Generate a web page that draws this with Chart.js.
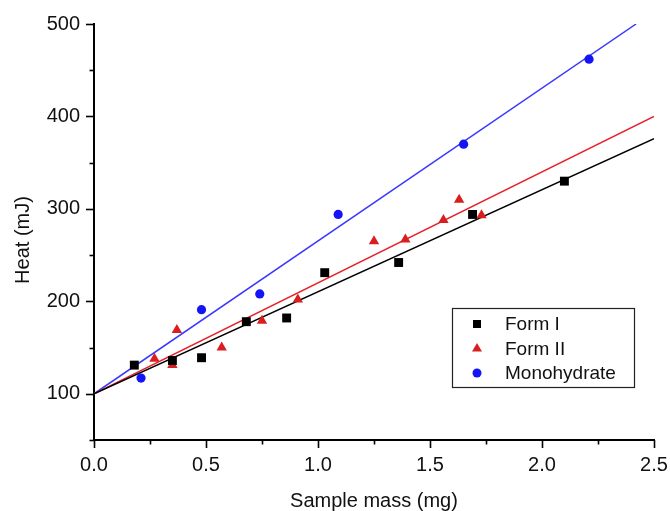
<!DOCTYPE html>
<html>
<head>
<meta charset="utf-8">
<script src="https://cdn.jsdelivr.net/npm/chart.js@4.4.1/dist/chart.umd.min.js"></script>
<style>
  html, body { margin: 0; padding: 0; background: #ffffff; }
  #wrap { width: 670px; height: 511px; }
</style>
</head>
<body>
<div id="wrap"><canvas id="c" width="670" height="511"></canvas></div>
<script>
// Measured samples: sample mass (mg) and heat (mJ)
const formIMass  = [0.18, 0.35, 0.48, 0.68, 0.86, 1.03, 1.36, 1.69, 2.10];
const formIHeat  = [131, 136, 139, 178, 182, 231, 242, 294, 330];

const formIIMass = [0.27, 0.35, 0.37, 0.57, 0.75, 0.91, 1.25, 1.39, 1.56, 1.63, 1.73];
const formIIHeat = [138, 131, 169, 150, 179, 202, 265, 267, 288, 310, 293];

const monoMass   = [0.21, 0.48, 0.74, 1.09, 1.65, 2.21];
const monoHeat   = [117, 191, 208, 294, 370, 462];

// Linear fits (end points)
const formIFitMass  = [0, 2.5];
const formIFitHeat  = [100, 376];
const formIIFitMass = [0, 2.5];
const formIIFitHeat = [100, 400];
const monoFitMass   = [0, 2.42];
const monoFitHeat   = [100, 500];

// Axis ticks
const xTickLabels = ['0.0', '0.5', '1.0', '1.5', '2.0', '2.5'];
const yTickLabels = ['100', '200', '300', '400', '500'];

const seriesNames = ['Form I', 'Form II', 'Monohydrate'];

const FONT = '"Liberation Sans", Arial, Helvetica, sans-serif';
const BLACK = '#000000';
const RED_PT = '#d81e1e';
const RED_LN = '#e8202a';
const BLUE_PT = '#1414f5';
const BLUE_LN = '#3a3aff';

const pts = (xs, ys) => xs.map((x, i) => ({ x: x, y: ys[i] }));

const isMultiple = (v, step) => Math.abs(v / step - Math.round(v / step)) < 1e-6;

// Short outward tick marks, long for labelled values and short for minors
const tickMarks = {
  id: 'tickMarks',
  afterDraw(chart) {
    const { ctx, scales: { x, y } } = chart;
    ctx.save();
    ctx.strokeStyle = BLACK;
    ctx.lineWidth = 1.6;
    y.ticks.forEach(t => {
      const py = Math.round(y.getPixelForValue(t.value)) + 0.5;
      const len = isMultiple(t.value, 100) ? 8 : 4.5;
      ctx.beginPath();
      ctx.moveTo(y.right, py);
      ctx.lineTo(y.right - len, py);
      ctx.stroke();
    });
    x.ticks.forEach(t => {
      const px = Math.round(x.getPixelForValue(t.value)) + 0.5;
      const len = isMultiple(t.value, 0.5) ? 8 : 4.5;
      ctx.beginPath();
      ctx.moveTo(px, x.top);
      ctx.lineTo(px, x.top + len);
      ctx.stroke();
    });
    ctx.restore();
  }
};

// Axis titles
const axisTitles = {
  id: 'axisTitles',
  afterDraw(chart) {
    const { ctx, chartArea } = chart;
    ctx.save();
    ctx.fillStyle = '#111111';
    ctx.font = '20px ' + FONT;
    ctx.textAlign = 'center';
    ctx.textBaseline = 'alphabetic';
    ctx.fillText('Sample mass (mg)', (chartArea.left + chartArea.right) / 2, 507);
    ctx.translate(29, (chartArea.top + chartArea.bottom) / 2 + 8);
    ctx.rotate(-Math.PI / 2);
    ctx.fillText('Heat (mJ)', 0, 0);
    ctx.restore();
  }
};

// Boxed legend inside the plot area
const boxLegend = {
  id: 'boxLegend',
  afterDraw(chart) {
    const { ctx, chartArea } = chart;
    const entries = chart.data.datasets.filter(d => d.inLegend);
    const boxW = 182, rowH = 24.5, boxH = 79;
    const left = chartArea.right - 20 - boxW;
    const top = chartArea.bottom - 53 - boxH;
    ctx.save();
    ctx.strokeStyle = '#222222';
    ctx.lineWidth = 1.2;
    ctx.strokeRect(Math.round(left) + 0.5, Math.round(top) + 0.5, boxW, boxH);
    ctx.font = '19px ' + FONT;
    ctx.textBaseline = 'middle';
    ctx.textAlign = 'left';
    entries.forEach((d, i) => {
      const cy = top + 16 + i * rowH;
      const mx = left + 25;
      ctx.fillStyle = d.backgroundColor;
      ctx.beginPath();
      if (d.pointStyle === 'rect') {
        ctx.rect(mx - 4, cy - 4, 8, 8);
      } else if (d.pointStyle === 'triangle') {
        ctx.moveTo(mx, cy - 5.5);
        ctx.lineTo(mx + 5, cy + 3);
        ctx.lineTo(mx - 5, cy + 3);
        ctx.closePath();
      } else {
        ctx.arc(mx, cy, 4.5, 0, Math.PI * 2);
      }
      ctx.fill();
      ctx.fillStyle = '#111111';
      ctx.fillText(d.label, left + 53, cy + 1);
    });
    ctx.restore();
  }
};

const scatterSet = (label, data, style, color, radius) => ({
  label: label,
  inLegend: true,
  data: data,
  pointStyle: style,
  pointRadius: radius,
  pointHoverRadius: radius,
  pointBackgroundColor: color,
  pointBorderColor: color,
  pointBorderWidth: 0,
  backgroundColor: color,
  borderColor: color,
  showLine: false
});

const fitSet = (data, color) => ({
  data: data,
  inLegend: false,
  showLine: true,
  borderColor: color,
  borderWidth: 1.5,
  pointRadius: 0,
  pointHoverRadius: 0,
  fill: false,
  tension: 0
});

new Chart(document.getElementById('c'), {
  type: 'scatter',
  data: {
    datasets: [
      scatterSet(seriesNames[0], pts(formIMass, formIHeat), 'rect', BLACK, 6.3),
      scatterSet(seriesNames[1], pts(formIIMass, formIIHeat), 'triangle', RED_PT, 6),
      scatterSet(seriesNames[2], pts(monoMass, monoHeat), 'circle', BLUE_PT, 4.6),
      fitSet(pts(formIFitMass, formIFitHeat), BLACK),
      fitSet(pts(formIIFitMass, formIIFitHeat), RED_LN),
      fitSet(pts(monoFitMass, monoFitHeat), BLUE_LN)
    ]
  },
  options: {
    responsive: false,
    animation: false,
    devicePixelRatio: 1,
    layout: { padding: { top: 24, right: 16, left: 0, bottom: 0 } },
    plugins: {
      legend: { display: false },
      tooltip: { enabled: false }
    },
    scales: {
      x: {
        type: 'linear',
        min: 0,
        max: 2.5,
        afterFit: s => { s.height = 71; s.paddingLeft = 0; s.paddingRight = 0; },
        ticks: {
          stepSize: 0.25,
          autoSkip: false,
          maxRotation: 0,
          padding: 5,
          color: '#111111',
          font: { family: FONT, size: 20 },
          callback: v => {
            if (!isMultiple(v, 0.5)) return '';
            return xTickLabels[Math.round(v / 0.5)];
          }
        },
        grid: { drawOnChartArea: false, drawTicks: true, tickLength: 8, tickColor: 'rgba(0,0,0,0)' },
        border: { display: true, color: BLACK, width: 2 }
      },
      y: {
        type: 'linear',
        min: 50,
        max: 500,
        afterFit: s => { s.width = 94; s.paddingTop = 0; s.paddingBottom = 0; },
        ticks: {
          stepSize: 50,
          autoSkip: false,
          padding: 6,
          color: '#111111',
          font: { family: FONT, size: 20 },
          callback: v => {
            if (!isMultiple(v, 100)) return '';
            return yTickLabels[Math.round(v / 100) - 1];
          }
        },
        grid: { drawOnChartArea: false, drawTicks: true, tickLength: 8, tickColor: 'rgba(0,0,0,0)' },
        border: { display: true, color: BLACK, width: 2 }
      }
    }
  },
  plugins: [tickMarks, axisTitles, boxLegend]
});
</script>
</body>
</html>
